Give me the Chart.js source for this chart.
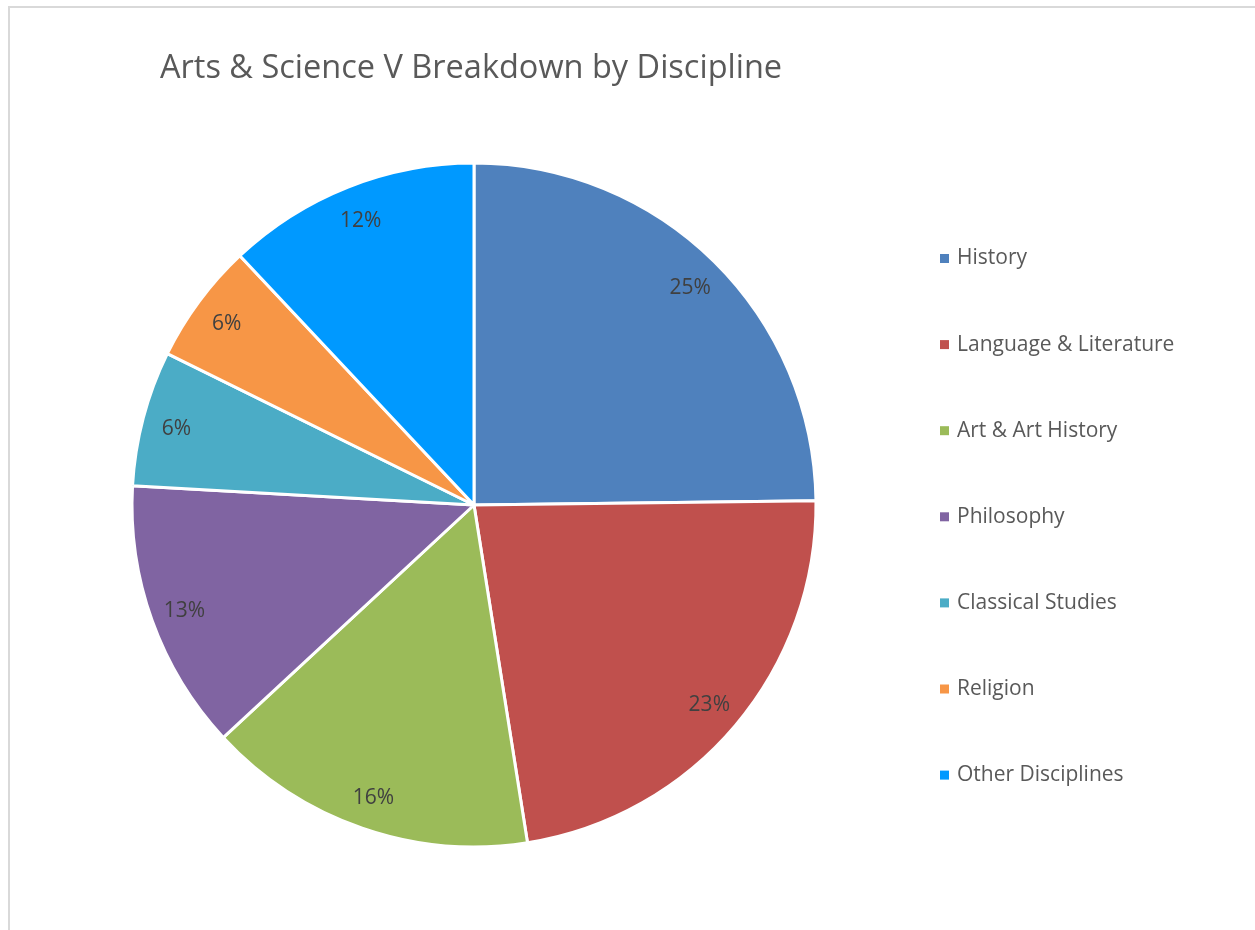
<!DOCTYPE html>
<html>
<head>
<meta charset="utf-8">
<title>Arts & Science V Breakdown by Discipline</title>
<script src="https://cdn.jsdelivr.net/npm/chart.js@4"></script>
<style>
  html, body { margin: 0; padding: 0; background: #fff; overflow: hidden; }
  #wrap { position: relative; width: 1255px; height: 930px; }
  #frame {
    position: absolute; left: 8px; top: 6px; width: 1300px; height: 1000px;
    border: 2px solid #d9d9d9; box-sizing: border-box;
  }
  canvas { position: absolute; left: 0; top: 0; }
</style>
</head>
<body>
<div id="wrap">
  <div id="frame"></div>
  <canvas id="disciplineChart" width="1255" height="930"></canvas>
</div>
<script>
// Arts & Science V - share of courses by discipline
const chartTitle = 'Arts & Science V Breakdown by Discipline';
const categories = ['History', 'Language & Literature', 'Art & Art History', 'Philosophy',
  'Classical Studies', 'Religion', 'Other Disciplines'];
const shares = [24.8, 22.7, 15.6, 12.8, 6.4, 5.7, 12.0];
const sliceColors = ['#4f81bd', '#c0504d', '#9bbb59', '#8064a2', '#4bacc6', '#f79646', '#0099ff'];

const FONT = '"Open Sans", "Noto Sans", sans-serif';

// title drawn left of the pie, like the spreadsheet export
const titlePlugin = {
  id: 'sheetTitle',
  afterDraw(chart) {
    const ctx = chart.ctx;
    ctx.save();
    ctx.font = '32.5px ' + FONT;
    ctx.fillStyle = '#595959';
    ctx.textBaseline = 'middle';
    ctx.textAlign = 'left';
    ctx.fillText(chartTitle, 160, 69);
    ctx.restore();
  }
};

// percentage labels near the outer edge of each slice
const pctLabels = {
  id: 'pctLabels',
  afterDatasetsDraw(chart) {
    const ctx = chart.ctx;
    const meta = chart.getDatasetMeta(0);
    const data = chart.data.datasets[0].data;
    const total = data.reduce((a, b) => a + b, 0);
    ctx.save();
    ctx.font = '21px ' + FONT;
    ctx.fillStyle = '#404040';
    ctx.textAlign = 'center';
    ctx.textBaseline = 'middle';
    meta.data.forEach((arc, i) => {
      const p = arc.getProps(['x', 'y', 'startAngle', 'endAngle', 'outerRadius'], true);
      const mid = (p.startAngle + p.endAngle) / 2;
      const r = p.outerRadius * 0.9;
      const pct = Math.round(data[i] / total * 100) + '%';
      ctx.fillText(pct, p.x + Math.cos(mid) * r, p.y + Math.sin(mid) * r + 2);
    });
    ctx.restore();
  }
};

// legend column on the right
const sideLegend = {
  id: 'sideLegend',
  afterDraw(chart) {
    const ctx = chart.ctx;
    const colors = chart.data.datasets[0].backgroundColor;
    ctx.save();
    ctx.font = '21px ' + FONT;
    ctx.textBaseline = 'middle';
    ctx.textAlign = 'left';
    chart.data.labels.forEach((label, i) => {
      const y = 258.5 + i * 86.1;
      ctx.fillStyle = colors[i];
      ctx.fillRect(940, y - 4.5, 9, 9);
      ctx.fillStyle = '#595959';
      ctx.fillText(label, 957, y);
    });
    ctx.restore();
  }
};

new Chart(document.getElementById('disciplineChart'), {
  type: 'pie',
  data: {
    labels: categories,
    datasets: [{
      data: shares,
      backgroundColor: sliceColors,
      borderColor: '#ffffff',
      borderWidth: 3
    }]
  },
  options: {
    responsive: false,
    animation: false,
    radius: 342,
    layout: {
      padding: { left: 132, right: 439, top: 163, bottom: 83 }
    },
    plugins: {
      legend: { display: false },
      title: { display: false },
      tooltip: { enabled: false }
    }
  },
  plugins: [titlePlugin, pctLabels, sideLegend]
});
</script>
</body>
</html>
